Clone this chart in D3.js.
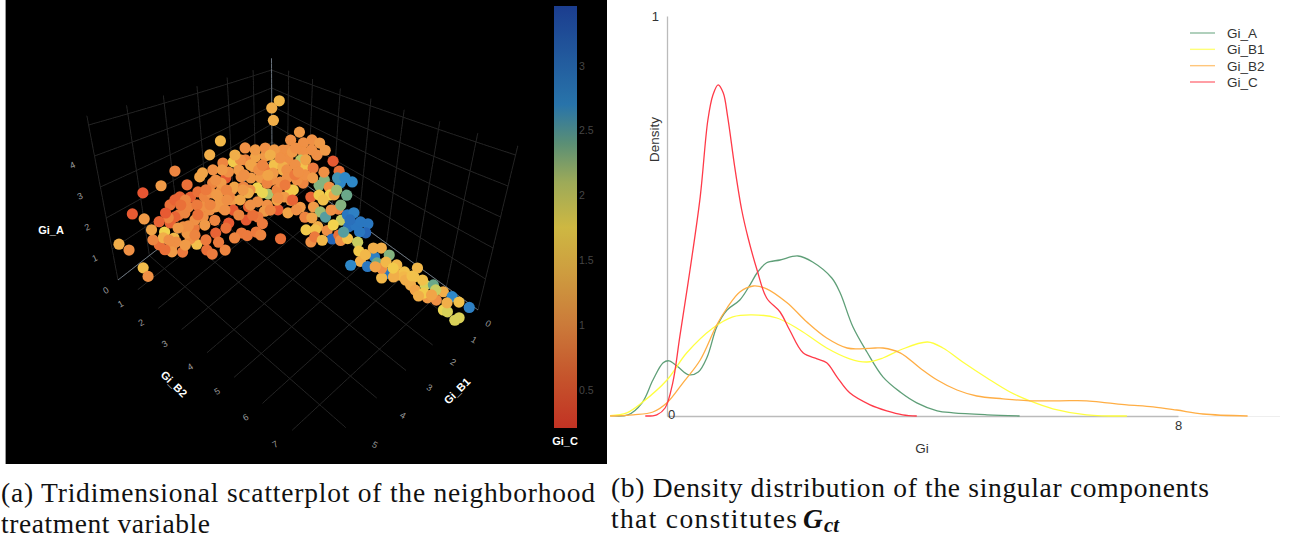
<!DOCTYPE html>
<html>
<head>
<meta charset="utf-8">
<script src="https://cdn.jsdelivr.net/npm/d3@7"></script>
<style>
html, body { margin: 0; padding: 0; background: #fff; overflow: hidden; }
text { font-family: "Liberation Sans", sans-serif; }
.caption { font-family: "Liberation Serif", serif; font-size: 27.5px; fill: #111; }
</style>
</head>
<body>
<svg id="fig" width="1292" height="542"></svg>
<script>
// scatter data, one dot per index
var giB2 = [
 .75,.5,.5,.5,.5,.5,.5,.5,.5,.5,
 .5,.5,.5,2,.5,.5,.5,.5,.5,.5,
 .5,2,2,2,2,2,2,2,2,2,
 2,.5,.5,.5,.5,.5,.5,.5,.5,.5,
 .5,.5,.5,.5,.5,.5,.5,.5,.5,.5,
 .5,.5,.5,.5,.5,.5,.96,1.16,.96,1.32,
 1.70,.5,.5,.5,2,.5,.5,2,2,2,
 2,1.92,.5,.5,2,2,2,.5,2,2,
 2,2.3,2,2,2,2,2,2,2,2,
 2.1,2.3,2.8,.5,.5,.5,.5,.5,2,2,
 .5,2,1.75,2,2,.5,.5,.5,2.22,2.52,
 1.88,1.16,1.88,2.44,1.2,1.79,1.92,3.05,2.31,.96,
 3.29,1.16,3.77,3.36,2.77,2.58,3.25,2.97,2.05,1.92,
 1.65,1.78,2.77,3.08,3.47,2.0,2.4,2.89,2.9,3.36,
 3.16,3.36,3.93,3.7,3.92,4.2,4.03,4.43,4.39,4.58,
 3.4,3.4,3.4,3.6,3.66,4.1,3.9,4.1,4.2,4.55,
 3.95,3.9,4,4.65,5.33,5.6,5.15,4.9,5.15,4.8,
 5.25,5.65,5.7,5.45,5.87,5.97,6.13,6.16,6.43,6.37,
 6.53,6.79,7.02,7.33,7.18,6.92,7.3,7.52,7.83,7.43,
 7.55,7.8,7.9,6.79,6.13,5.85,
 .5,.5,.5,.5,.5,.5,.5,.5,.5,.5,
 .5,.5,.5,2,.5,.5,.5,.5,.5,.5,
 .8,1.41,1.55,2.0,1.55,2.0,2.31,1.46,1.69,2.03,
 2.6,2,2,2,2,2,2,2,2,2,
 .5,.5,.5,2,.5,.5,2,2,.5,.5,
 .5,.5,.5,.5,.5,.5,.5,2,2,.5,
 2.74,1.55,2.22,1.70,2.74,3.62,3.24,3.25,3.62,3.51,
 3.55,3.25,3.44,4.85,5.08,5.53,5.77,6.2,6.69,7.11,
 7.49,6.68,6.37,7.02,5.3,4.18,3.81,4.04
];
var giB1 = [
 .3,.47,.38,2.59,2.98,4.10,4.55,5.08,5.45,5.15,
 5.94,5.70,5.39,6,4.83,4.62,4.42,4.14,4.36,4.68,
 4.46,5.11,4.96,4.52,4.70,4.55,4.23,4.07,3.64,3.91,
 3.84,3.12,3.36,3.64,3.94,3.81,3.71,3.46,3.26,3.02,
 3.36,3.26,2.91,2.95,2.48,2.66,2.29,2.55,2.17,1.70,
 1.28,.82,1.70,1.37,.82,.33,.3,.3,.3,.3,
 .3,1.90,1.50,1.06,1.87,2.18,1.82,2.44,2.03,2.25,
 1.67,1,2.73,2.29,3.05,2.77,3.30,2.66,2.44,2.07,
 1.63,1.5,2.18,2.44,2.87,3.47,3.57,3.05,3.30,2.85,
 2.6,2.6,2.3,4.04,4.26,3.36,2.91,2.66,2.70,2.77,
 2.40,1.67,1.1,1.83,2.07,3.94,4.04,4.46,.3,.3,
 .3,.3,.3,.3,.3,.3,.3,.3,.3,.3,
 .3,.3,.3,.3,.3,.3,.3,.3,1,.3,
 .3,1,1,1,1,1.05,1.05,1,1.4,.3,
 1,1,1,.3,.3,1,.3,.3,.3,1,
 1.9,1.4,1.5,1.2,1,1.6,1.02,1.2,1,1,
 2.3,2.1,1.9,1.05,1,1,1,1.3,1.3,1.6,
 1,1.1,1.4,1.05,1,1,1,.3,1,1,
 1,1,1,1,1,1,.3,.3,.3,1,
 1,1,1,1,1,1.05,
 4.36,4.2,3.88,3.53,3.19,2.84,2.48,2.84,2.37,1.98,
 1.78,1.50,1.15,2.03,.97,1.90,2.10,1.28,.82,.33,
 .3,.3,.3,.3,.3,.3,.3,1,1,1,
 1.45,1.63,1.95,2.27,2.63,3.12,3.57,3.91,4.23,4.55,
 3.87,4.2,4.52,5.26,4.68,4.99,4.86,4.23,3.53,4.04,
 4.52,4.74,4.99,2.48,3.09,3.78,2.59,2.7,2.94,.57,
 .3,.3,.3,.3,.3,1,1,.3,.3,.3,
 1,1.5,.3,1,1,1,1,1,1,1,
 1,1.05,1,1,1.15,.3,.3,1
];
var giA = [
 3.68,3.26,2.56,2.88,2.53,2.60,2.34,2.42,1.94,1.57,
 1.28,.92,.09,1.08,.43,.72,.89,.97,.29,.56,
 .05,1.53,1.10,1.04,1.35,1.61,.62,.35,.14,.97,
 .59,.34,.26,.38,.89,1.02,1.33,1.35,.99,.97,
 1.88,1.97,1.85,1.33,1.18,.80,.49,1.89,1.67,1.98,
 1.25,.96,1.41,.82,.30,.16,.18,.84,1.22,1.96,
 2.60,.77,.39,.03,1.54,.53,.23,1.61,1.05,1.27,
 .96,.39,.43,.04,1.57,1.09,1.36,.02,1.04,.62,
 .06,.05,.45,.42,.65,1.0,.89,.29,.31,.02,
 .02,.05,.02,1.58,.99,.67,.29,1.10,1.71,1.64,
 .28,.52,.02,1.80,1.54,.12,.44,1.11,2.55,2.59,
 2.18,1.35,1.74,1.97,.92,1.28,1.03,2.11,1.27,.34,
 1.83,.33,1.70,1.36,1.05,.66,1.50,.88,.50,.25,
 .19,.86,.72,1.04,1.33,.02,.02,.38,.25,.21,
 .38,.32,.64,.24,.50,.58,.06,.45,.05,.67,
 .5,.25,.2,.1,.23,.45,.02,.1,.11,.25,
 .75,.75,.55,.02,.63,.58,.16,.01,.02,.01,
 .02,.02,.11,.02,.43,.15,.38,.13,.43,.11,
 .06,.43,.6,.6,.22,.1,.02,.01,.07,.09,
 .12,.04,.19,.16,.21,.02,
 1.51,1.58,1.34,.88,1.23,.74,.65,1.37,1.36,1.15,
 .77,1.02,.50,1.85,.61,1.56,1.93,1.59,1.37,.96,
 .70,1.41,.87,1.44,.37,.71,.80,.43,.46,.02,
 .37,.58,.31,.01,.65,1.04,1.56,1.43,1.49,1.37,
 .34,.53,.35,1.32,.13,.73,1.26,.97,.49,1.27,
 1.33,1.18,1.08,.21,.53,1.86,1.62,1.11,1.88,.84,
 2.40,1.71,2.07,.62,1.39,1.44,.95,.96,1.02,1.70,
 .76,.57,.45,.01,.44,.27,.24,.15,.52,.5,
 .36,.01,.42,.27,.02,.33,.11,.24
];
var giC = [
 1.4,1.3,1.3,1.4,1.3,.9,1.1,.45,.5,1.1,
 1.3,1.0,1.45,1.0,.7,1.7,.6,.8,1.4,1.3,
 1.0,1.0,.8,1.5,1.0,.8,.7,.8,.9,.6,
 .8,1.0,1.0,1.0,.9,.9,.6,.7,.9,1.0,
 1.2,1.2,1.0,.9,.5,1.0,1.1,.9,1.6,1.0,
 1.2,1.1,.9,1.1,.8,1.5,1.3,1.0,1.0,1.0,
 1.1,1.0,1.1,1.1,1.0,1.2,.9,1.7,2.15,1.8,
 .9,1.7,1.1,1.1,1.2,.6,.5,1.1,1.0,1.0,
 .5,1.2,1.1,.8,.5,.5,.7,.8,.9,.8,
 .8,.9,.7,.6,.6,1.0,1.1,1.1,1.0,1.3,
 .9,1.2,1.1,1.1,.9,1.1,1.0,.9,1.0,1.1,
 1.0,1.0,1.0,1.0,1.0,2.1,1.5,.5,.8,1.3,
 .7,1.0,2.7,2.7,2.3,2.3,2.6,1.0,1.6,.9,
 1.0,1.0,.6,1.6,1.7,1.0,1.1,1.1,.9,.9,
 2.2,2.5,2.0,2.9,2.8,3.0,2.9,2.9,3.1,2.9,
 1.6,1.3,1.5,1.0,1.7,3.1,.7,1.0,1.5,2.0,
 1.0,.8,1.4,1.6,1.3,2.3,2.8,1.3,2.9,2.7,
 2.4,2.9,1.4,1.0,1.4,1.3,1.5,1.4,1.5,1.3,
 1.2,1.9,2.4,1.3,1.0,1.1,2.7,1.5,2.8,1.8,
 1.9,1.9,1.9,1.6,1.4,1.3,
 .7,.6,.9,.8,.8,1.1,.9,1.0,1.0,1.1,
 1.0,1.2,1.0,1.2,.9,1.0,1.3,1.1,1.0,1.1,
 1.0,1.1,1.0,1.2,.8,1.0,1.1,1.0,.8,.6,
 1.0,1.0,.9,.8,.7,.9,1.0,.9,1.1,.9,
 1.0,1.1,1.0,1.1,.7,.9,1.1,.8,.7,.7,
 .5,.6,1.2,1.0,.9,.7,1.1,1.0,1.1,1.3,
 1.1,1.0,1.0,1.0,1.0,1.2,1.5,2.2,2.4,2.7,
 1.0,1.2,2.3,1.4,1.3,1.4,1.6,1.3,1.5,2.0,
 1.3,1.3,1.5,1.2,1.2,2.9,3.0,2.5
];

var b2Ticks = [0,1,2,3,4,5,6,7];
var b1Ticks = [0,1,2,3,4,5];
var aTicks = [0,1,2,3,4];
var cTicks = [0.5,1,1.5,2,2.5,3];

// density curves: x values and density values per series
var densX_A = [-.89,-.61,-.39,-.22,-.06,.03,.17,.34,.49,.63,.78,.94,1.14,1.30,1.42,1.56,1.77,2.05,2.28,2.58,2.71,2.91,3.13,3.38,3.65,3.91,4.23,4.48,5.01,5.52];
var densY_A = [.001,.003,.033,.09,.133,.138,.123,.103,.11,.148,.223,.265,.29,.328,.36,.383,.39,.40,.385,.345,.308,.223,.16,.098,.06,.033,.013,.008,.003,0];
var densX_B1 = [-.89,-.63,-.38,0,.31,.72,1.03,1.33,1.72,2.08,2.50,2.86,3.13,3.38,3.65,4.08,4.32,4.63,5.01,5.37,5.68,6.04,6.57,7.2];
var densY_B1 = [.001,.008,.035,.09,.158,.22,.248,.253,.245,.215,.17,.143,.135,.145,.165,.185,.17,.135,.095,.06,.038,.018,.003,0];
var densX_B2 = [-.89,-.53,-.22,0,.25,.52,.78,.94,1.14,1.35,1.56,1.88,2.19,2.50,2.82,3.02,3.26,3.38,3.65,3.96,4.23,4.54,4.85,5.26,5.68,6.15,6.57,6.89,7.2,7.61,7.98,8.39,9.09];
var densY_B2 = [0,.003,.01,.033,.083,.14,.228,.27,.31,.325,.318,.283,.235,.195,.17,.168,.17,.17,.158,.12,.09,.065,.05,.043,.038,.038,.038,.033,.028,.023,.015,.005,0];
var densX_C = [-.34,-.16,-.03,.09,.2,.36,.52,.64,.72,.8,.88,.95,1.06,1.17,1.27,1.41,1.56,1.77,1.92,2.13,2.35,2.50,2.66,2.86,3.18,3.44,3.69,3.91];
var densY_C = [0,.003,.02,.083,.198,.365,.548,.74,.803,.828,.808,.748,.623,.515,.445,.365,.295,.26,.215,.158,.143,.133,.098,.058,.028,.013,.003,0];
var seriesNames = ["Gi_A","Gi_B1","Gi_B2","Gi_C"];
var seriesColors = ["#5f9f78","#ffff40","#ffae45","#ff3a48"];

var svg = d3.select("#fig");
var defs = svg.append("defs");
defs.append("filter").attr("id","soft").append("feGaussianBlur").attr("stdDeviation",.55);

// ---- panel a ----
svg.append("rect").attr("x",5).attr("y",0).attr("width",602).attr("height",464).attr("fill","#000");
svg.append("line").attr("x1",5.5).attr("x2",5.5).attr("y1",0).attr("y2",464).attr("stroke","#999");

var uScale = d3.scalePow().exponent(1.25).domain([0,8]).range([0,1]);
var vScale = d3.scalePow().exponent(1.25).domain([0,6]).range([0,1]);

// floor is bilinear between the four corners, height grows toward the viewer
function project(b2, b1, a) {
  var u = uScale(b2), v = vScale(b1);
  var fx = 272 + 206*u - 154*v - 6*u*v;
  var fy = 160 + 150*u + 120*v + 33*u*v;
  var h = (18 + 13*(u+v)) * a;
  return [276 + (fx-276)*(1 + 0.0012*h), fy - h];
}

var grid = svg.append("g").attr("fill","none").attr("stroke-width",1).attr("filter","url(#soft)");
var path3 = d3.line();
function seg(p, q, col) {
  var pts = d3.range(0,21).map(function(i) {
    var t = i/20;
    return project(p[0]+(q[0]-p[0])*t, p[1]+(q[1]-p[1])*t, p[2]+(q[2]-p[2])*t);
  });
  grid.append("path").attr("d",path3(pts)).attr("stroke",col);
}
var dim = "#242424", wallTop = 5.3;
b2Ticks.forEach(function(t) { seg([t,0,0],[t,5.85,0],dim); });
b1Ticks.forEach(function(t) { seg([0,t,0],[7.85,t,0],dim); });
d3.range(1,9).forEach(function(t) { seg([t,0,0],[t,0,wallTop],dim); });
d3.range(1,7).forEach(function(t) { seg([0,t,0],[0,t,wallTop],dim); });
d3.range(1,6).forEach(function(t) {
  seg([0,0,t],[8,0,t],dim);
  seg([0,0,t],[0,6,t],dim);
});
seg([0,0,0],[8,0,0],"#6a747e");
seg([0,0,0],[0,6,0],"#6a747e");
seg([0,0,0],[0,0,5.65],"#6a747e");

var colorScale = d3.scaleLinear()
  .domain([.2,.6,1,1.4,1.75,2.1,2.4,2.7,3.46])
  .range(["#e43c2a","#e86434","#ef9044","#f2b84a","#f2d84e","#b8c868","#6aa88a","#2f88c8","#2048a8"]);

svg.append("g").attr("filter","url(#soft)").selectAll("circle")
  .data(giB2)
  .enter().append("circle")
  .attr("cx", function(d,i) { return project(giB2[i],giB1[i],giA[i])[0]; })
  .attr("cy", function(d,i) { return project(giB2[i],giB1[i],giA[i])[1]; })
  .attr("r", 5.6)
  .attr("fill", function(d,i) { return colorScale(giC[i]); });

// 3d axis tick labels
var tickCol = "#9a9a9a";
function tickLabel(p, dx, dy, txt, rot) {
  svg.append("text").attr("text-anchor","middle").attr("font-size",9).attr("fill",tickCol)
    .attr("transform","translate("+(p[0]+dx)+","+(p[1]+dy)+") rotate("+rot+")")
    .attr("dy","0.35em").text(txt);
}
b2Ticks.forEach(function(t) { tickLabel(project(t,5.85,0),-17,14,t,-30); });
b1Ticks.forEach(function(t) { tickLabel(project(7.85,t,0),15+2.8*t,17,t,30); });
aTicks.forEach(function(t) { if (t>0) tickLabel(project(0,6,t),-16-1.5*t,9,t,-25); });

function axisName(x, y, txt, rot) {
  svg.append("text").attr("text-anchor","middle").attr("font-size",11).attr("font-weight","bold").attr("fill","#fff")
    .attr("transform","translate("+x+","+y+") rotate("+rot+")").attr("dy","0.35em").text(txt);
}
axisName(51,230,"Gi_A",0);
axisName(174,384,"Gi_B2",45);
axisName(457,391,"Gi_B1",-45);
axisName(565,441,"Gi_C",0);

// colour bar
var barY = d3.scaleLinear().domain([.207,3.46]).range([428,6]);
var grad = defs.append("linearGradient").attr("id","cbar")
  .attr("x1",0).attr("x2",0).attr("y1",1).attr("y2",0);
colorScale.domain().forEach(function(d) {
  grad.append("stop").attr("offset",(d-.2)/(3.46-.2)).attr("stop-color",colorScale(d));
});
svg.append("rect").attr("x",554).attr("y",6).attr("width",23).attr("height",422)
  .attr("fill","url(#cbar)").attr("opacity",.85);
var barAxis = svg.append("g").attr("transform","translate(577,0)")
  .call(d3.axisRight(barY).tickValues(cTicks).tickSize(0).tickPadding(2).tickFormat(d3.format("")));
barAxis.select(".domain").remove();
barAxis.selectAll("text").attr("fill","#454545").attr("font-size",10.5).attr("font-family","Liberation Sans");

// ---- panel b ----
var x = d3.scaleLinear().domain([0,8]).range([667,1178]);
var y = d3.scaleLinear().domain([0,1]).range([416,16]);

svg.append("line").attr("x1",1178).attr("x2",1280).attr("y1",416.5).attr("y2",416.5).attr("stroke","#eee");
var xAxis = svg.append("g").attr("transform","translate(0,416)")
  .call(d3.axisBottom(x).tickValues([0,8]).tickSize(0).tickPadding(5).tickFormat(d3.format("d")));
xAxis.select(".domain").attr("stroke","#bbb").attr("stroke-width",1.3);
xAxis.selectAll("text").attr("fill","#333").attr("font-size",13).attr("font-family","Liberation Sans");
xAxis.selectAll("text").filter(function(d) { return d === 0; }).attr("x",4).attr("y",-6);
var yAxis = svg.append("g").attr("transform","translate(667,0)")
  .call(d3.axisLeft(y).tickValues([1]).tickSize(0).tickPadding(8).tickFormat(d3.format("d")));
yAxis.select(".domain").attr("stroke","#bbb").attr("stroke-width",1.3);
yAxis.selectAll("text").attr("fill","#333").attr("font-size",13).attr("font-family","Liberation Sans");

svg.append("text").attr("x",922).attr("y",453).attr("text-anchor","middle").attr("font-size",13.5).attr("fill","#333").text("Gi");
svg.append("text").attr("transform","translate(659,139.5) rotate(-90)").attr("text-anchor","middle").attr("font-size",13.5).attr("fill","#333").text("Density");

var curve = d3.line().x(function(d) { return x(d[0]); }).y(function(d) { return y(d[1]); }).curve(d3.curveCatmullRom.alpha(.5));
[[densX_A,densY_A],[densX_B1,densY_B1],[densX_B2,densY_B2],[densX_C,densY_C]].forEach(function(s, i) {
  svg.append("path").attr("d", curve(d3.zip(s[0],s[1])))
    .attr("fill","none").attr("stroke",seriesColors[i]).attr("stroke-width",1.3);
});

var legendY = d3.scalePoint().domain(seriesNames).range([33,82]);
seriesNames.forEach(function(n, i) {
  svg.append("line").attr("x1",1190).attr("x2",1215).attr("y1",legendY(n)).attr("y2",legendY(n))
    .attr("stroke",seriesColors[i]).attr("stroke-width",1.4).attr("opacity",.7);
  svg.append("text").attr("x",1227).attr("y",legendY(n)+5).attr("font-size",13.5).attr("fill","#333").text(n);
});

// ---- captions ----
function caption(xp, yp, txt, len) {
  return svg.append("text").attr("class","caption").attr("x",xp).attr("y",yp).text(txt)
    .attr("textLength",len).attr("lengthAdjust","spacing");
}
caption(1,502,"(a) Tridimensional scatterplot of the neighborhood",594);
caption(1,533,"treatment variable",209);
caption(611,497,"(b) Density distribution of the singular components",598);
caption(611,528,"that constitutes",186);
svg.append("text").attr("class","caption").attr("x",803).attr("y",528)
  .attr("font-weight","bold").attr("font-style","italic").text("G");
svg.append("text").attr("class","caption").attr("x",824).attr("y",532)
  .attr("font-weight","bold").attr("font-style","italic").style("font-size","21px").text("ct");
</script>
</body>
</html>
